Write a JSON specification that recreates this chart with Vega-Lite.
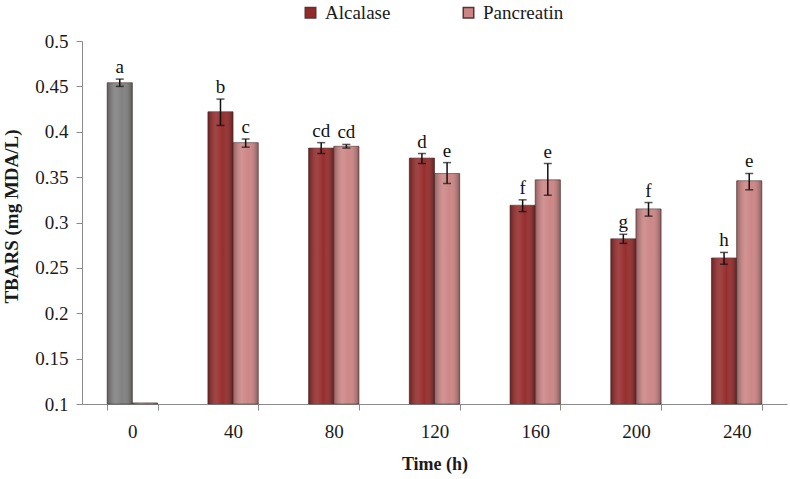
{
  "$schema": "https://vega.github.io/schema/vega-lite/v6.json",
  "width": 705,
  "height": 363,
  "autosize": {"type": "none"},
  "padding": {"left": 82, "top": 41, "right": 3, "bottom": 75},
  "background": "white",
  "config": {
    "font": "Liberation Serif, Times New Roman, serif",
    "view": {"stroke": null},
    "text": {"font": "Liberation Serif, Times New Roman, serif"},
    "legend": {"labelFont": "Liberation Serif, Times New Roman, serif"},
    "axis": {"grid": false, "labelColor": "#1a1a1a", "titleColor": "#1a1a1a", "domainColor": "#8a8a8a", "tickColor": "#8a8a8a", "labelFont": "Liberation Serif, Times New Roman, serif", "titleFont": "Liberation Serif, Times New Roman, serif"}
  },
  "data": {
    "values": [
      {"time": 0, "series": "Alcalase", "group": "Control", "value": 0.454, "lo": 0.450, "hi": 0.458, "letter": "a"},
      {"time": 0, "series": "Pancreatin", "group": "Pancreatin", "value": 0.1012, "lo": null, "hi": null, "letter": ""},
      {"time": 40, "series": "Alcalase", "group": "Alcalase", "value": 0.422, "lo": 0.407, "hi": 0.436, "letter": "b"},
      {"time": 40, "series": "Pancreatin", "group": "Pancreatin", "value": 0.388, "lo": 0.383, "hi": 0.392, "letter": "c"},
      {"time": 80, "series": "Alcalase", "group": "Alcalase", "value": 0.382, "lo": 0.376, "hi": 0.388, "letter": "cd"},
      {"time": 80, "series": "Pancreatin", "group": "Pancreatin", "value": 0.384, "lo": 0.382, "hi": 0.386, "letter": "cd"},
      {"time": 120, "series": "Alcalase", "group": "Alcalase", "value": 0.371, "lo": 0.365, "hi": 0.376, "letter": "d"},
      {"time": 120, "series": "Pancreatin", "group": "Pancreatin", "value": 0.354, "lo": 0.343, "hi": 0.366, "letter": "e"},
      {"time": 160, "series": "Alcalase", "group": "Alcalase", "value": 0.319, "lo": 0.312, "hi": 0.325, "letter": "f"},
      {"time": 160, "series": "Pancreatin", "group": "Pancreatin", "value": 0.347, "lo": 0.330, "hi": 0.365, "letter": "e"},
      {"time": 200, "series": "Alcalase", "group": "Alcalase", "value": 0.282, "lo": 0.277, "hi": 0.287, "letter": "g"},
      {"time": 200, "series": "Pancreatin", "group": "Pancreatin", "value": 0.315, "lo": 0.307, "hi": 0.322, "letter": "f"},
      {"time": 240, "series": "Alcalase", "group": "Alcalase", "value": 0.261, "lo": 0.254, "hi": 0.267, "letter": "h"},
      {"time": 240, "series": "Pancreatin", "group": "Pancreatin", "value": 0.346, "lo": 0.336, "hi": 0.354, "letter": "e"}
    ]
  },
  "encoding": {
    "x": {
      "field": "time", "type": "ordinal",
      "scale": {"paddingInner": 0.5, "paddingOuter": 0.25},
      "axis": {"title": "Time (h)", "titleFontWeight": "bold", "titleFontSize": 18, "labelFontSize": 19, "labelAngle": 0, "tickBand": "extent", "tickSize": 6, "labelPadding": 12, "titlePadding": 14}
    },
    "xOffset": {"field": "series", "type": "nominal", "scale": {"domain": ["Alcalase", "Pancreatin"], "paddingInner": 0}}
  },
  "layer": [
    {
      "mark": {"type": "bar", "stroke": "#503838", "strokeWidth": 0.8, "strokeOpacity": 0.8},
      "encoding": {
        "y": {
          "field": "value", "type": "quantitative",
          "scale": {"domain": [0.1, 0.5], "zero": false, "nice": false},
          "axis": {"title": "TBARS (mg MDA/L)", "titleFontWeight": "bold", "titleFontSize": 19, "titleX": -61, "titleY": 175, "labelFontSize": 19, "values": [0.1, 0.15, 0.2, 0.25, 0.3, 0.35, 0.4, 0.45, 0.5], "format": "~g", "tickSize": 6, "labelPadding": 8}
        },
        "y2": {"datum": 0.1},
        "color": {
          "field": "group", "type": "nominal",
          "scale": {"domain": ["Alcalase", "Pancreatin", "Control"], "range": ["#952A2A", "#CC8484", "#7F7F7F"]},
          "legend": {"values": ["Alcalase", "Pancreatin"], "title": null, "orient": "none", "direction": "horizontal", "legendX": 219, "legendY": -38, "symbolType": "square", "symbolSize": 110, "labelFontSize": 19, "labelColor": "#1a1a1a", "columnPadding": 68, "labelOffset": 5}
        }
      }
    },
    {
      "mark": {"type": "bar", "color": {"gradient": "linear", "x1": 0, "y1": 0, "x2": 1, "y2": 0, "stops": [
        {"offset": 0, "color": "rgba(0,0,0,0.28)"},
        {"offset": 0.35, "color": "rgba(255,255,255,0.12)"},
        {"offset": 0.6, "color": "rgba(255,255,255,0.02)"},
        {"offset": 1, "color": "rgba(0,0,0,0.32)"}
      ]}},
      "encoding": {
        "y": {"field": "value", "type": "quantitative"},
        "y2": {"datum": 0.1}
      }
    },
    {
      "transform": [{"filter": "datum.lo != null"}],
      "mark": {"type": "rule", "color": "#111", "strokeWidth": 1.5},
      "encoding": {
        "y": {"field": "lo", "type": "quantitative"},
        "y2": {"field": "hi"}
      }
    },
    {
      "transform": [{"filter": "datum.lo != null"}],
      "mark": {"type": "tick", "orient": "horizontal", "color": "#111", "size": 8, "thickness": 1.5},
      "encoding": {"y": {"field": "lo", "type": "quantitative"}}
    },
    {
      "transform": [{"filter": "datum.lo != null"}],
      "mark": {"type": "tick", "orient": "horizontal", "color": "#111", "size": 8, "thickness": 1.5},
      "encoding": {"y": {"field": "hi", "type": "quantitative"}}
    },
    {
      "transform": [{"filter": "datum.lo != null"}],
      "mark": {"type": "text", "fontSize": 19, "color": "#111", "baseline": "alphabetic", "dy": -6},
      "encoding": {
        "y": {"field": "hi", "type": "quantitative"},
        "text": {"field": "letter"}
      }
    }
  ]
}
